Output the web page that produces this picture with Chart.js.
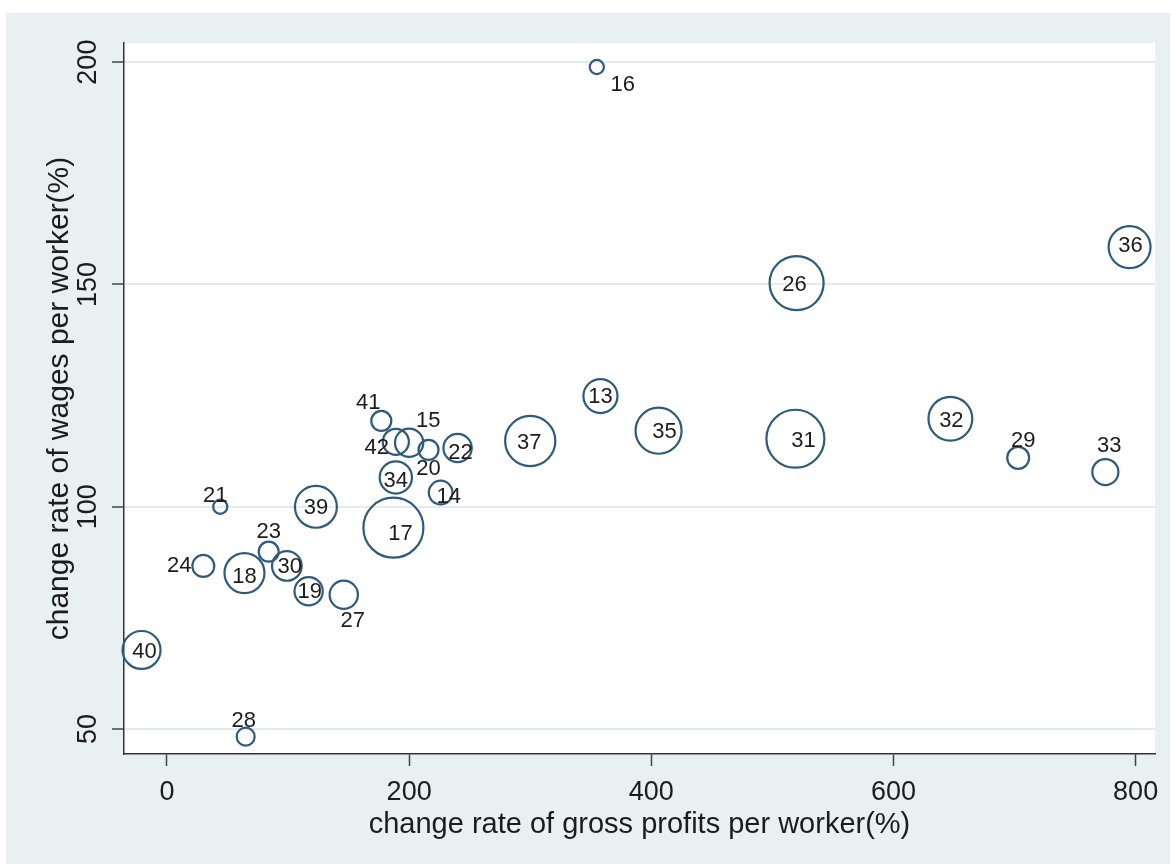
<!DOCTYPE html>
<html>
<head>
<meta charset="utf-8">
<script src="https://cdn.jsdelivr.net/npm/chart.js@4.4.1/dist/chart.umd.min.js"></script>
<style>
  html, body { margin: 0; padding: 0; background: #ffffff; }
  #frame { position: absolute; left: 6px; top: 13px; width: 1164px; height: 851px; background: #e8f0f2; }
  #wrap { position: absolute; left: 0; top: 0; width: 1171px; height: 864px; }
</style>
</head>
<body>
<div id="frame"></div>
<div id="wrap"><canvas id="c" width="1171" height="864"></canvas></div>
<script>
// Industry codes and their growth rates (%)
const industryIds  = [13, 14, 15, 16, 17, 18, 19, 20, 21, 22, 23, 24, 26, 27, 28, 29, 30, 31, 32, 33, 34, 35, 36, 37, 39, 40, 41, 42];
const profitGrowth = [358, 226, 200, 355, 187, 64, 117, 216, 44, 240, 84, 30, 520, 146, 65, 703, 99, 519, 647, 775, 189, 406, 795, 300, 123, -21, 177, 189];
const wageGrowth   = [124.9, 103.2, 114.4, 198.9, 95.3, 85.1, 81.0, 112.8, 100.0, 113.2, 89.9, 86.7, 150.3, 80.2, 48.3, 111.0, 86.7, 115.3, 119.8, 107.8, 106.6, 117.1, 158.4, 114.8, 100.0, 67.8, 119.3, 114.6];
// Bubble weights (area is proportional to weight)
const workerWeight = [29, 14, 20, 5, 90, 40, 20, 10, 5, 20, 10, 12, 73, 20, 8, 12, 22, 84, 48, 17, 26, 53, 44, 63, 44, 36, 10, 17];

// Axis ticks
const xTickValues = [0, 200, 400, 600, 800];
const yTickValues = [50, 100, 150, 200];

// Marker label placement relative to the bubble centre, in pixels
const labelOffset = [
  [0, 0], [8, 3], [19, -23], [26, 17], [7, 5], [0, 3], [1, 0], [0, 18], [-5, -12], [3, 4],
  [0, -21], [-24, -1], [-2, 1], [9, 25], [-2, -17], [5, -18], [3, 0], [8, 1], [1, 1], [4, -27],
  [0, 3], [6, 0], [1, -2], [-1, 1], [0, 0], [3, 1], [-13, -19], [-19, 5]
];

const FONT = "'Liberation Sans', Arial, sans-serif";
const TEXT = '#1c1c1c';
const NAVY = '#2e5a7d';

const points = industryIds.map((id, i) => ({
  x: profitGrowth[i],
  y: wageGrowth[i],
  r: Math.sqrt(workerWeight[i] * 10)
}));

// White plot region
const plotBackground = {
  id: 'plotBackground',
  beforeDraw(chart) {
    const { ctx, chartArea: a } = chart;
    ctx.save();
    ctx.fillStyle = '#ffffff';
    ctx.fillRect(a.left, a.top, a.right - a.left, a.bottom - a.top);
    ctx.restore();
  }
};

// Vertical y tick labels
const verticalYTicks = {
  id: 'verticalYTicks',
  afterDraw(chart) {
    const { ctx } = chart;
    const ys = chart.scales.y;
    ctx.save();
    ctx.fillStyle = TEXT;
    ctx.font = '27px ' + FONT;
    ctx.textAlign = 'center';
    ctx.textBaseline = 'middle';
    yTickValues.forEach(v => {
      const py = ys.getPixelForValue(v);
      ctx.save();
      ctx.translate(ys.right - 35, py);
      ctx.rotate(-Math.PI / 2);
      ctx.fillText(String(v), 0, 0);
      ctx.restore();
    });
    ctx.restore();
  }
};

// Industry code labels on the bubbles
const markerLabels = {
  id: 'markerLabels',
  afterDatasetsDraw(chart) {
    const { ctx } = chart;
    const meta = chart.getDatasetMeta(0);
    ctx.save();
    ctx.fillStyle = TEXT;
    ctx.font = '22px ' + FONT;
    ctx.textAlign = 'center';
    ctx.textBaseline = 'middle';
    meta.data.forEach((el, i) => {
      const [dx, dy] = labelOffset[i];
      ctx.fillText(String(industryIds[i]), el.x + dx, el.y + dy + 1);
    });
    ctx.restore();
  }
};

new Chart(document.getElementById('c'), {
  type: 'bubble',
  data: {
    datasets: [{
      data: points,
      backgroundColor: 'rgba(0,0,0,0)',
      borderColor: NAVY,
      borderWidth: 2.2,
      hoverBorderWidth: 2.2,
      clip: false
    }]
  },
  options: {
    responsive: false,
    animation: false,
    events: [],
    layout: { autoPadding: false, padding: { left: 0, top: 43, right: 16, bottom: 0 } },
    plugins: { legend: { display: false }, tooltip: { enabled: false } },
    scales: {
      x: {
        type: 'linear',
        min: -35.5,
        max: 816,
        afterBuildTicks(scale) { scale.ticks = xTickValues.map(v => ({ value: v })); },
        afterFit(scale) { scale.height = 110; scale.paddingLeft = 0; scale.paddingRight = 0; },
        grid: { drawOnChartArea: false, drawTicks: true, tickLength: 12, tickColor: '#444444', tickWidth: 1.5 },
        border: { display: true, color: '#333333', width: 1.5 },
        ticks: { color: TEXT, font: { family: FONT, size: 27 }, padding: 10, maxRotation: 0 },
        title: {
          display: true,
          text: 'change rate of gross profits per worker(%)',
          color: TEXT,
          font: { family: FONT, size: 29 },
          padding: { top: 0, bottom: 22 }
        }
      },
      y: {
        type: 'linear',
        min: 44.4,
        max: 204.3,
        afterBuildTicks(scale) { scale.ticks = yTickValues.map(v => ({ value: v })); },
        afterFit(scale) { scale.width = 124; scale.paddingTop = 0; scale.paddingBottom = 0; },
        grid: { color: '#e2ecef', lineWidth: 2, drawTicks: true, tickLength: 12, tickColor: '#444444', tickWidth: 1.5 },
        border: { display: true, color: '#333333', width: 1.5 },
        ticks: { display: false },
        title: {
          display: true,
          text: 'change rate of wages per worker(%)',
          color: TEXT,
          font: { family: FONT, size: 30 },
          padding: { top: 42, bottom: 0 }
        }
      }
    }
  },
  plugins: [plotBackground, verticalYTicks, markerLabels]
});
</script>
</body>
</html>
